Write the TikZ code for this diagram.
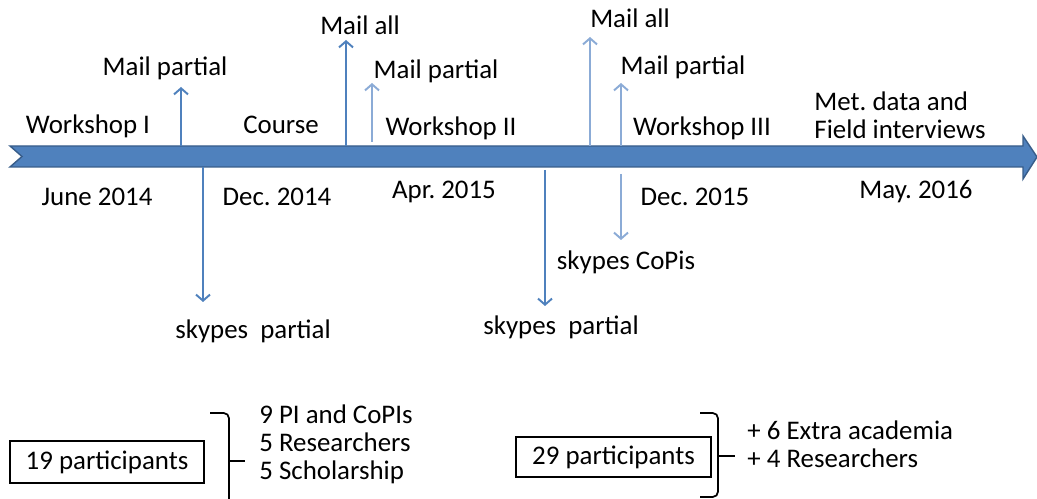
\documentclass[tikz,border=0pt]{standalone}
\usepackage{fontspec}
\setmainfont{Carlito}
\usetikzlibrary{arrows.meta}
\definecolor{barblue}{RGB}{79,129,189}
\definecolor{bardark}{RGB}{56,93,138}
\definecolor{evtblue}{RGB}{79,129,189}
\definecolor{evtpale}{RGB}{139,171,214}
\frenchspacing

\begin{document}
\begin{tikzpicture}[x=0.02cm, y=-0.02cm, font=\fontsize{15.3}{16}\selectfont, >={Straight Barb[length=3.5pt,width=8pt]},
lbl/.style={inner sep=0pt, align=left},
evt/.style={->, line width=1.1pt, draw=evtblue},
evtpale/.style={->, line width=1.1pt, draw=evtpale},
pbox/.style={draw, line width=1.2pt, inner sep=0pt, minimum width=3.88cm, minimum height=0.84cm},
brace/.style={line width=1pt, rounded corners=3pt}]
\useasboundingbox (0,0) rectangle (1037,499);

% time line
\filldraw[fill=barblue, draw=bardark, line width=0.8pt] (10,146) -- (1023,146) -- (1023,136) -- (1037,157)
  -- (1023,179) -- (1023,167) -- (10,167) -- (22,156.5) -- cycle;

\node[lbl] (ws1) at (88,126) {Workshop I};
\node[lbl] (course) at (281,125) {Course};
\node[lbl] (ws2) at (451,128) {Workshop II};
\node[lbl] (ws3) at (702,128) {Workshop III};
\node[lbl] (field) at (900,115) {Met. data and\\Field interviews};

\node[lbl] (d1) at (97,197) {June 2014};
\node[lbl] (d2) at (277,197) {Dec. 2014};
\node[lbl] (d3) at (444,192) {Apr. 2015};
\node[lbl] (d4) at (695,197) {Dec. 2015};
\node[lbl] (d5) at (916,192) {May. 2016};

\node[lbl] (mp1) at (165,68) {Mail partial};
\node[lbl] (ma1) at (360,25) {Mail all};
\node[lbl] (mp2) at (436,71) {Mail partial};
\node[lbl] (ma2) at (630,18) {Mail all};
\node[lbl] (mp3) at (683,67) {Mail partial};
\node[lbl] (sk1) at (253,331) {skypes\ \ partial};
\node[lbl] (sk2) at (561,327) {skypes\ \ partial};
\node[lbl] (sk3) at (626,262) {skypes CoPis};

\coordinate (mp1a) at (181,146); \coordinate (mp1b) at (181,87);
\coordinate (ma1a) at (346,146); \coordinate (ma1b) at (346,40);
\coordinate (mp2a) at (372,142); \coordinate (mp2b) at (372,83);
\coordinate (ma2a) at (590,146); \coordinate (ma2b) at (590,37);
\coordinate (mp3a) at (621,146); \coordinate (mp3b) at (621,83);
\coordinate (sk1a) at (203,167); \coordinate (sk1b) at (203,302);
\coordinate (sk2a) at (545,170); \coordinate (sk2b) at (545,306);
\coordinate (sk3a) at (621,174); \coordinate (sk3b) at (621,240);

\draw[evt] (mp1a) -- (mp1b);
\draw[evt] (ma1a) -- (ma1b);
\draw[evtpale] (mp2a) -- (mp2b);
\draw[evtpale] (ma2a) -- (ma2b);
\draw[evtpale] (mp3a) -- (mp3b);
\draw[evt] (sk1a) -- (sk1b);
\draw[evt] (sk2a) -- (sk2b);
\draw[evtpale] (sk3a) -- (sk3b);

% participants
\node[pbox] (p19) at (107,462) {19 participants};
\node[lbl, anchor=west] (g19) at (259,444) {9 PI and CoPIs\\5 Researchers\\5 Scholarship};
\node[pbox, minimum width=3.9cm, minimum height=0.8cm] (p29) at (613.5,457) {29 participants};
\node[lbl, anchor=west] (g29) at (747,444.5) {+ 6 Extra academia\\+ 4 Researchers};

\coordinate (b19t) at (210,413); \coordinate (b19b) at (229,499); \coordinate (b19m) at (245,461);
\draw[brace] (b19t) -| (b19b);
\draw[brace] (229,461) -- (b19m);
\coordinate (b29t) at (700,413); \coordinate (b29b) at (700,497); \coordinate (b29m) at (735,456);
\draw[brace] (b29t) -| (718,456) |- (b29b);
\draw[brace] (718,456) -- (b29m);
\end{tikzpicture}
\end{document}
